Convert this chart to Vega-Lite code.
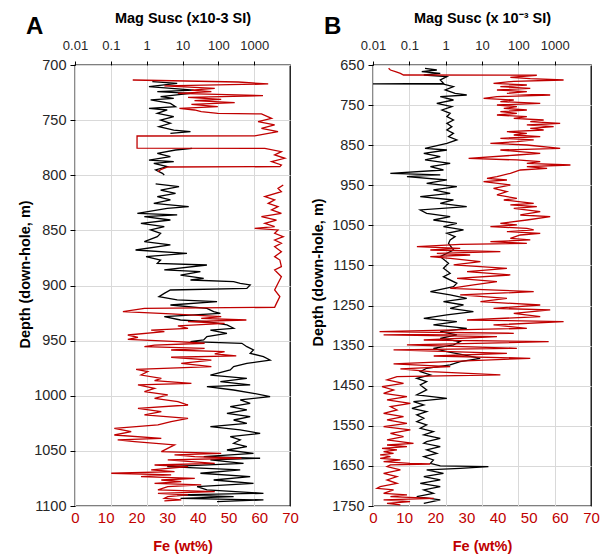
{
  "$schema": "https://vega.github.io/schema/vega-lite/v6.json",
  "background": "white",
  "padding": {"left": 16, "top": 9, "right": 5, "bottom": 2},
  "config": {
    "font": "Liberation Sans",
    "view": {"stroke": "#000000", "strokeWidth": 1.3},
    "axis": {
      "gridColor": "#d9d9d9",
      "gridWidth": 1,
      "domain": false,
      "tickColor": "#000000",
      "labelColor": "#262626",
      "labelFlush": false,
      "titleColor": "#000000",
      "titleFontWeight": "bold",
      "titleFontSize": 14.5
    },
    "title": {"fontSize": 24, "fontWeight": "bold", "anchor": "start", "frame": "bounds", "color": "#000000"},
    "concat": {"spacing": 10}
  },
  "datasets": {
    "a_ms": [
      {"depth":715.1,"ms":1.44,"seg":1},{"depth":716.6,"ms":7.1,"seg":1},{"depth":719.7,"ms":1.16,"seg":1},{"depth":722.7,"ms":20.6,"seg":1},
      {"depth":724.2,"ms":1.98,"seg":1},{"depth":725.7,"ms":16.7,"seg":1},{"depth":728.7,"ms":2.45,"seg":1},{"depth":730.2,"ms":5.7,"seg":1},
      {"depth":731.7,"ms":1.29,"seg":1},{"depth":734.8,"ms":4.6,"seg":1},{"depth":737.8,"ms":6.4,"seg":1},{"depth":739.3,"ms":1.16,"seg":1},
      {"depth":740.8,"ms":3.75,"seg":1},{"depth":743.8,"ms":1.98,"seg":1},{"depth":746.9,"ms":5.7,"seg":1},{"depth":749.9,"ms":2.45,"seg":1},
      {"depth":752.9,"ms":4.6,"seg":1},{"depth":755.9,"ms":2.2,"seg":1},{"depth":759.0,"ms":5.7,"seg":1},{"depth":760.5,"ms":16.7,"seg":1},
      {"depth":762.0,"ms":4.6,"seg":1},
      {"depth":775.6,"ms":18.5,"seg":2},{"depth":777.1,"ms":6.4,"seg":2},{"depth":780.1,"ms":1.98,"seg":2},{"depth":783.1,"ms":4.6,"seg":2},
      {"depth":786.2,"ms":1.16,"seg":2},{"depth":787.7,"ms":5.7,"seg":2},{"depth":789.2,"ms":1.58,"seg":2},{"depth":792.2,"ms":3.75,"seg":2},
      {"depth":795.2,"ms":1.78,"seg":2},{"depth":798.3,"ms":2.75,"seg":2},{"depth":799.8,"ms":3.1,"seg":2},
      {"depth":807.9,"ms":1.78,"seg":3},{"depth":810.4,"ms":8.0,"seg":3},{"depth":813.4,"ms":2.45,"seg":3},{"depth":816.4,"ms":6.4,"seg":3},
      {"depth":819.4,"ms":1.98,"seg":3},{"depth":822.4,"ms":4.6,"seg":3},{"depth":825.5,"ms":1.58,"seg":3},{"depth":828.5,"ms":14.9,"seg":3},
      {"depth":830.0,"ms":3.75,"seg":3},{"depth":834.5,"ms":0.55,"seg":3},{"depth":836.0,"ms":7.1,"seg":3},{"depth":837.5,"ms":0.86,"seg":3},
      {"depth":840.6,"ms":4.6,"seg":3},{"depth":843.6,"ms":0.69,"seg":3},{"depth":846.6,"ms":3.1,"seg":3},{"depth":849.6,"ms":1.29,"seg":3},
      {"depth":852.7,"ms":2.45,"seg":3},{"depth":855.7,"ms":1.98,"seg":3},{"depth":860.2,"ms":0.86,"seg":3},{"depth":863.2,"ms":4.6,"seg":3},
      {"depth":867.8,"ms":0.49,"seg":3},{"depth":870.8,"ms":13.3,"seg":3},{"depth":873.8,"ms":0.96,"seg":3},{"depth":876.9,"ms":2.45,"seg":3},
      {"depth":879.9,"ms":1.98,"seg":3},{"depth":881.4,"ms":48,"seg":3},{"depth":885.9,"ms":3.1,"seg":3},{"depth":887.5,"ms":31.6,"seg":3},
      {"depth":890.5,"ms":8.8,"seg":3},{"depth":893.5,"ms":39,"seg":3},{"depth":895.0,"ms":16.7,"seg":3},{"depth":896.5,"ms":267,"seg":3},
      {"depth":898.0,"ms":408,"seg":3},{"depth":899.5,"ms":774,"seg":3},{"depth":902.6,"ms":625,"seg":3},{"depth":904.1,"ms":4.6,"seg":3},
      {"depth":907.1,"ms":3.1,"seg":3},{"depth":910.1,"ms":2.2,"seg":3},{"depth":913.1,"ms":7.1,"seg":3},{"depth":914.7,"ms":92,"seg":3},
      {"depth":917.7,"ms":4.6,"seg":3},{"depth":920.7,"ms":48,"seg":3},{"depth":923.7,"ms":74,"seg":3},{"depth":925.2,"ms":114,"seg":3},
      {"depth":928.3,"ms":3.1,"seg":3},{"depth":931.3,"ms":8.8,"seg":3},{"depth":932.8,"ms":48,"seg":3},{"depth":935.8,"ms":174,"seg":3},
      {"depth":938.8,"ms":267,"seg":3},{"depth":940.4,"ms":60,"seg":3},{"depth":943.4,"ms":174,"seg":3},{"depth":946.4,"ms":48,"seg":3},
      {"depth":949.4,"ms":39,"seg":3},{"depth":950.9,"ms":16.7,"seg":3},{"depth":952.4,"ms":454,"seg":3},{"depth":955.5,"ms":625,"seg":3},
      {"depth":958.5,"ms":957,"seg":3},{"depth":961.5,"ms":774,"seg":3},{"depth":964.5,"ms":1815,"seg":3},{"depth":967.6,"ms":2780,"seg":3},
      {"depth":970.6,"ms":625,"seg":3},{"depth":973.6,"ms":267,"seg":3},{"depth":976.6,"ms":215,"seg":3},{"depth":981.2,"ms":60,"seg":3},
      {"depth":984.2,"ms":625,"seg":3},{"depth":987.2,"ms":114,"seg":3},{"depth":990.2,"ms":774,"seg":3},{"depth":991.7,"ms":48,"seg":3},
      {"depth":994.8,"ms":267,"seg":3},{"depth":997.8,"ms":957,"seg":3},{"depth":1000.8,"ms":2780,"seg":3},{"depth":1003.8,"ms":408,"seg":3},
      {"depth":1006.9,"ms":774,"seg":3},{"depth":1009.9,"ms":215,"seg":3},{"depth":1012.9,"ms":625,"seg":3},{"depth":1015.9,"ms":174,"seg":3},
      {"depth":1019.0,"ms":774,"seg":3},{"depth":1022.0,"ms":267,"seg":3},{"depth":1025.0,"ms":625,"seg":3},{"depth":1028.0,"ms":60,"seg":3},
      {"depth":1031.0,"ms":408,"seg":3},{"depth":1034.1,"ms":1470,"seg":3},{"depth":1037.1,"ms":215,"seg":3},{"depth":1040.1,"ms":408,"seg":3},
      {"depth":1043.1,"ms":267,"seg":3},{"depth":1046.2,"ms":625,"seg":3},{"depth":1049.2,"ms":174,"seg":3},{"depth":1052.2,"ms":957,"seg":3},
      {"depth":1055.2,"ms":39,"seg":3},{"depth":1056.7,"ms":1466,"seg":3},{"depth":1058.2,"ms":60,"seg":3},{"depth":1061.3,"ms":505,"seg":3},
      {"depth":1064.3,"ms":3.75,"seg":3},{"depth":1067.3,"ms":408,"seg":3},{"depth":1070.3,"ms":31.6,"seg":3},{"depth":1073.4,"ms":774,"seg":3},
      {"depth":1076.4,"ms":74,"seg":3},{"depth":1079.4,"ms":957,"seg":3},{"depth":1082.4,"ms":25.5,"seg":3},{"depth":1085.4,"ms":48,"seg":3},
      {"depth":1088.5,"ms":1815,"seg":3},{"depth":1090.0,"ms":7.1,"seg":3},{"depth":1091.5,"ms":267,"seg":3},{"depth":1093.0,"ms":8.8,"seg":3},
      {"depth":1094.5,"ms":1815,"seg":3},{"depth":1096.0,"ms":92,"seg":3}
    ],
    "a_fe": [
      {"depth":713.6,"fe":18.8,"seg":1},{"depth":715.4,"fe":53.1,"seg":1},{"depth":717.2,"fe":62.9,"seg":1},{"depth":719.0,"fe":29.1,"seg":1},
      {"depth":721.2,"fe":45.5,"seg":1},{"depth":722.7,"fe":37.9,"seg":1},{"depth":724.2,"fe":44.4,"seg":1},{"depth":725.7,"fe":33.5,"seg":1},
      {"depth":727.8,"fe":61.2,"seg":1},{"depth":729.3,"fe":36.8,"seg":1},{"depth":731.1,"fe":47.6,"seg":1},{"depth":732.4,"fe":38.9,"seg":1},
      {"depth":734.2,"fe":52.0,"seg":1},{"depth":735.7,"fe":37.9,"seg":1},{"depth":737.8,"fe":46.5,"seg":1},{"depth":739.3,"fe":34.0,"seg":1},
      {"depth":740.8,"fe":38.9,"seg":1},{"depth":742.3,"fe":41.1,"seg":1},{"depth":743.8,"fe":46.5,"seg":1},{"depth":744.4,"fe":60.7,"seg":1},
      {"depth":748.4,"fe":64.0,"seg":1},{"depth":751.4,"fe":59.6,"seg":1},{"depth":754.4,"fe":65.0,"seg":1},{"depth":757.4,"fe":60.7,"seg":1},
      {"depth":760.5,"fe":66.1,"seg":1},{"depth":764.2,"fe":58.5,"seg":1},{"depth":764.4,"fe":20.2,"seg":1},{"depth":775.4,"fe":20.2,"seg":1},
      {"depth":775.6,"fe":61.8,"seg":1},{"depth":778.6,"fe":67.2,"seg":1},{"depth":781.6,"fe":65.0,"seg":1},{"depth":784.6,"fe":68.3,"seg":1},
      {"depth":787.7,"fe":64.0,"seg":1},{"depth":790.7,"fe":67.2,"seg":1},{"depth":792.2,"fe":66.7,"seg":1},{"depth":792.5,"fe":30.2,"seg":1},
      {"depth":794.6,"fe":28.1,"seg":1},{"depth":796.7,"fe":27.0,"seg":1},
      {"depth":808.8,"fe":67.8,"seg":2},{"depth":811.9,"fe":66.1,"seg":2},{"depth":814.9,"fe":67.2,"seg":2},{"depth":819.4,"fe":61.8,"seg":2},
      {"depth":822.4,"fe":65.0,"seg":2},{"depth":825.5,"fe":62.9,"seg":2},{"depth":828.5,"fe":66.1,"seg":2},{"depth":831.5,"fe":64.0,"seg":2},
      {"depth":834.5,"fe":67.2,"seg":2},{"depth":837.5,"fe":60.7,"seg":2},{"depth":840.6,"fe":65.6,"seg":2},{"depth":843.6,"fe":61.8,"seg":2},
      {"depth":846.6,"fe":65.0,"seg":2},{"depth":848.1,"fe":58.5,"seg":2},{"depth":849.6,"fe":66.1,"seg":2},{"depth":852.7,"fe":65.0,"seg":2},
      {"depth":855.7,"fe":67.8,"seg":2},{"depth":858.7,"fe":65.0,"seg":2},{"depth":861.7,"fe":67.2,"seg":2},{"depth":864.8,"fe":65.0,"seg":2},
      {"depth":869.3,"fe":67.2,"seg":2},{"depth":873.8,"fe":65.0,"seg":2},{"depth":876.9,"fe":66.7,"seg":2},{"depth":882.9,"fe":67.2,"seg":2},
      {"depth":885.9,"fe":65.0,"seg":2},{"depth":892.0,"fe":67.2,"seg":2},{"depth":898.0,"fe":66.1,"seg":2},{"depth":904.1,"fe":65.0,"seg":2},
      {"depth":910.1,"fe":66.7,"seg":2},{"depth":916.2,"fe":65.6,"seg":2},{"depth":919.8,"fe":65.0,"seg":2},{"depth":920.7,"fe":22.6,"seg":2},
      {"depth":923.7,"fe":15.6,"seg":2},{"depth":925.8,"fe":31.3,"seg":2},{"depth":928.3,"fe":47.6,"seg":2},{"depth":929.8,"fe":41.1,"seg":2},
      {"depth":931.3,"fe":55.8,"seg":2},{"depth":932.8,"fe":36.8,"seg":2},{"depth":934.3,"fe":48.7,"seg":2},{"depth":936.7,"fe":33.5,"seg":2},
      {"depth":938.8,"fe":36.8,"seg":2},{"depth":940.4,"fe":24.8,"seg":2},{"depth":941.9,"fe":29.1,"seg":2},{"depth":944.9,"fe":17.2,"seg":2},
      {"depth":947.0,"fe":20.5,"seg":2},{"depth":948.8,"fe":17.2,"seg":2},{"depth":950.9,"fe":33.5,"seg":2},{"depth":952.4,"fe":42.2,"seg":2},
      {"depth":954.0,"fe":25.9,"seg":2},{"depth":955.5,"fe":22.6,"seg":2},{"depth":957.0,"fe":42.2,"seg":2},{"depth":958.5,"fe":31.3,"seg":2},
      {"depth":960.0,"fe":48.7,"seg":2},{"depth":962.1,"fe":45.5,"seg":2},{"depth":963.9,"fe":52.5,"seg":2},{"depth":965.1,"fe":31.3,"seg":2},
      {"depth":967.6,"fe":44.4,"seg":2},{"depth":970.6,"fe":34.6,"seg":2},{"depth":973.6,"fe":44.4,"seg":2},{"depth":976.0,"fe":19.9,"seg":2},
      {"depth":978.1,"fe":23.7,"seg":2},{"depth":981.2,"fe":21.5,"seg":2},{"depth":984.2,"fe":28.1,"seg":2},{"depth":986.3,"fe":25.9,"seg":2},
      {"depth":988.7,"fe":37.9,"seg":2},{"depth":990.2,"fe":20.5,"seg":2},{"depth":993.3,"fe":25.9,"seg":2},{"depth":996.3,"fe":22.6,"seg":2},
      {"depth":999.3,"fe":30.2,"seg":2},{"depth":1002.3,"fe":25.9,"seg":2},{"depth":1005.4,"fe":33.5,"seg":2},{"depth":1008.4,"fe":36.8,"seg":2},
      {"depth":1011.4,"fe":20.5,"seg":2},{"depth":1014.4,"fe":28.1,"seg":2},{"depth":1017.4,"fe":22.6,"seg":2},{"depth":1020.5,"fe":36.8,"seg":2},
      {"depth":1023.5,"fe":31.3,"seg":2},{"depth":1026.5,"fe":27.0,"seg":2},{"depth":1029.5,"fe":12.8,"seg":2},{"depth":1032.6,"fe":18.3,"seg":2},
      {"depth":1035.6,"fe":12.8,"seg":2},{"depth":1038.6,"fe":28.1,"seg":2},{"depth":1040.1,"fe":13.9,"seg":2},{"depth":1041.6,"fe":19.4,"seg":2},
      {"depth":1044.6,"fe":32.4,"seg":2},{"depth":1046.1,"fe":31.3,"seg":2},{"depth":1050.7,"fe":28.1,"seg":2},{"depth":1052.2,"fe":47.6,"seg":2},
      {"depth":1053.7,"fe":32.4,"seg":2},{"depth":1055.2,"fe":39.0,"seg":2},{"depth":1056.7,"fe":54.2,"seg":2},{"depth":1058.2,"fe":30.2,"seg":2},
      {"depth":1061.3,"fe":45.5,"seg":2},{"depth":1062.8,"fe":25.9,"seg":2},{"depth":1064.3,"fe":36.8,"seg":2},{"depth":1067.3,"fe":24.8,"seg":2},
      {"depth":1068.8,"fe":32.4,"seg":2},{"depth":1070.3,"fe":11.8,"seg":2},{"depth":1071.8,"fe":31.3,"seg":2},{"depth":1073.4,"fe":21.5,"seg":2},
      {"depth":1074.9,"fe":39.0,"seg":2},{"depth":1076.4,"fe":28.1,"seg":2},{"depth":1077.9,"fe":34.6,"seg":2},{"depth":1079.4,"fe":25.9,"seg":2},
      {"depth":1080.9,"fe":41.1,"seg":2},{"depth":1082.4,"fe":30.2,"seg":2},{"depth":1085.4,"fe":27.0,"seg":2},{"depth":1087.0,"fe":45.5,"seg":2},
      {"depth":1088.5,"fe":27.0,"seg":2},{"depth":1090.0,"fe":36.8,"seg":2},{"depth":1091.5,"fe":30.2,"seg":2},{"depth":1093.0,"fe":29.1,"seg":2},
      {"depth":1094.5,"fe":34.6,"seg":2},{"depth":1095.4,"fe":29.1,"seg":2}
    ],
    "b_ms": [
      {"depth":658.3,"ms":0.27},{"depth":662.5,"ms":0.57},{"depth":666.6,"ms":0.22},{"depth":670.8,"ms":0.71},{"depth":674.9,"ms":0.25},
      {"depth":679.1,"ms":1.08},{"depth":687.4,"ms":0.71},{"depth":695.7,"ms":0.87},{"depth":696.9,"ms":0.01},{"depth":697.6,"ms":0.87},
      {"depth":704.0,"ms":1.64},{"depth":712.3,"ms":0.97},{"depth":720.7,"ms":1.82},{"depth":724.8,"ms":3.8},{"depth":729.0,"ms":0.71},
      {"depth":737.3,"ms":1.64},{"depth":745.6,"ms":0.57},{"depth":753.9,"ms":1.48},{"depth":762.2,"ms":0.79},{"depth":770.5,"ms":1.33},
      {"depth":778.9,"ms":1.08},{"depth":787.2,"ms":1.64},{"depth":795.5,"ms":1.08},{"depth":803.8,"ms":1.48},{"depth":812.1,"ms":1.08},
      {"depth":820.4,"ms":1.64},{"depth":828.7,"ms":1.2},{"depth":837.0,"ms":2.03},{"depth":845.4,"ms":1.08},{"depth":857.8,"ms":0.27},
      {"depth":862.0,"ms":1.08},{"depth":870.3,"ms":0.25},{"depth":878.6,"ms":0.71},{"depth":886.9,"ms":0.27},{"depth":895.2,"ms":1.33},
      {"depth":903.5,"ms":0.38},{"depth":911.9,"ms":0.87},{"depth":920.2,"ms":0.03},{"depth":924.3,"ms":0.71},{"depth":928.5,"ms":0.086},
      {"depth":936.8,"ms":1.08},{"depth":945.1,"ms":0.3},{"depth":953.4,"ms":2.03},{"depth":961.7,"ms":0.46},{"depth":970.0,"ms":1.33},
      {"depth":978.4,"ms":0.2},{"depth":986.7,"ms":1.64},{"depth":995.0,"ms":0.71},{"depth":1003.3,"ms":3.8},{"depth":1011.6,"ms":0.2},
      {"depth":1019.9,"ms":0.3},{"depth":1028.2,"ms":1.33},{"depth":1036.6,"ms":0.46},{"depth":1044.9,"ms":2.03},{"depth":1053.2,"ms":0.87},
      {"depth":1061.5,"ms":3.1},{"depth":1069.8,"ms":1.08},{"depth":1078.1,"ms":1.82},{"depth":1086.4,"ms":1.33},{"depth":1094.8,"ms":1.2},
      {"depth":1111.4,"ms":1.64},{"depth":1128.0,"ms":0.71},{"depth":1144.7,"ms":1.2},{"depth":1157.1,"ms":0.87},{"depth":1169.6,"ms":1.33},
      {"depth":1177.9,"ms":0.87},{"depth":1194.5,"ms":2.03},{"depth":1202.8,"ms":1.64},{"depth":1215.3,"ms":0.38},{"depth":1223.6,"ms":1.33},
      {"depth":1231.9,"ms":3.8},{"depth":1240.3,"ms":0.87},{"depth":1248.6,"ms":3.1},{"depth":1256.9,"ms":1.33},{"depth":1265.2,"ms":5.8},
      {"depth":1273.5,"ms":1.08},{"depth":1281.8,"ms":0.25},{"depth":1290.1,"ms":2.03},{"depth":1298.4,"ms":0.46},{"depth":1306.8,"ms":3.8},
      {"depth":1315.1,"ms":0.71},{"depth":1323.4,"ms":2.03},{"depth":1331.7,"ms":0.71},{"depth":1340.0,"ms":2.5},{"depth":1348.3,"ms":1.64},
      {"depth":1356.6,"ms":0.46},{"depth":1365.0,"ms":1.08},{"depth":1373.3,"ms":3.1},{"depth":1381.6,"ms":8.9},{"depth":1389.9,"ms":2.5},
      {"depth":1398.2,"ms":1.33},{"depth":1406.5,"ms":0.3},{"depth":1414.8,"ms":0.2},{"depth":1423.1,"ms":0.38},{"depth":1431.5,"ms":0.16},
      {"depth":1439.8,"ms":0.3},{"depth":1448.1,"ms":0.2},{"depth":1460.5,"ms":0.3},{"depth":1473.0,"ms":0.16},{"depth":1481.3,"ms":1.08},
      {"depth":1489.6,"ms":0.13},{"depth":1497.9,"ms":0.25},{"depth":1506.3,"ms":0.118},{"depth":1514.6,"ms":0.3},{"depth":1522.9,"ms":0.16},
      {"depth":1531.2,"ms":0.25},{"depth":1539.5,"ms":0.16},{"depth":1547.8,"ms":0.3},{"depth":1556.1,"ms":0.2},{"depth":1564.5,"ms":0.46},
      {"depth":1572.8,"ms":0.25},{"depth":1581.1,"ms":0.71},{"depth":1589.4,"ms":0.3},{"depth":1593.6,"ms":0.25},{"depth":1601.9,"ms":0.71},
      {"depth":1610.2,"ms":0.3},{"depth":1618.6,"ms":0.57},{"depth":1626.9,"ms":0.25},{"depth":1635.2,"ms":0.46},{"depth":1643.5,"ms":0.38},
      {"depth":1650.1,"ms":0.71},{"depth":1651.8,"ms":15},{"depth":1656.0,"ms":2.5},{"depth":1660.1,"ms":0.3},{"depth":1668.4,"ms":0.87},
      {"depth":1676.7,"ms":0.25},{"depth":1685.1,"ms":0.71},{"depth":1693.4,"ms":0.2},{"depth":1701.7,"ms":0.71},{"depth":1710.0,"ms":0.25},
      {"depth":1718.3,"ms":0.46},{"depth":1726.6,"ms":0.16},{"depth":1734.9,"ms":0.71},{"depth":1743.2,"ms":0.25}
    ],
    "b_fe": [
      {"depth":658.3,"fe":5.0},{"depth":662.5,"fe":5.6},{"depth":666.6,"fe":7.2},{"depth":670.8,"fe":8.8},{"depth":674.9,"fe":9.8},
      {"depth":675.6,"fe":52.6},{"depth":680.8,"fe":44.1},{"depth":684.1,"fe":50.5},{"depth":687.4,"fe":61.2},{"depth":690.7,"fe":45.2},
      {"depth":695.7,"fe":38.7},{"depth":699.9,"fe":49.4},{"depth":704.0,"fe":40.9},{"depth":708.2,"fe":50.5},{"depth":712.3,"fe":39.8},
      {"depth":716.5,"fe":49.4},{"depth":720.7,"fe":43.0},{"depth":724.8,"fe":56.9},{"depth":729.0,"fe":39.8},{"depth":733.1,"fe":35.5},
      {"depth":737.3,"fe":45.2},{"depth":741.4,"fe":40.9},{"depth":745.6,"fe":53.7},{"depth":749.8,"fe":39.8},{"depth":753.9,"fe":46.2},
      {"depth":758.1,"fe":42.0},{"depth":762.2,"fe":49.4},{"depth":766.4,"fe":40.9},{"depth":770.5,"fe":46.2},{"depth":774.7,"fe":39.8},
      {"depth":778.9,"fe":49.4},{"depth":783.0,"fe":45.2},{"depth":787.2,"fe":54.8},{"depth":791.3,"fe":50.5},{"depth":795.5,"fe":60.1},
      {"depth":799.6,"fe":49.4},{"depth":803.8,"fe":58.0},{"depth":807.9,"fe":50.5},{"depth":812.1,"fe":54.8},{"depth":816.3,"fe":43.0},
      {"depth":820.4,"fe":49.4},{"depth":824.6,"fe":45.2},{"depth":828.7,"fe":53.7},{"depth":832.9,"fe":40.9},{"depth":837.0,"fe":51.6},
      {"depth":841.2,"fe":46.2},{"depth":845.4,"fe":37.7},{"depth":849.5,"fe":49.4},{"depth":857.8,"fe":60.1},{"depth":862.0,"fe":40.9},
      {"depth":870.3,"fe":53.7},{"depth":874.5,"fe":46.2},{"depth":882.8,"fe":30.7},{"depth":886.9,"fe":46.2},{"depth":891.1,"fe":53.7},
      {"depth":895.2,"fe":49.4},{"depth":899.4,"fe":63.4},{"depth":903.5,"fe":49.4},{"depth":907.7,"fe":55.9},{"depth":911.9,"fe":47.3},
      {"depth":920.2,"fe":44.1},{"depth":928.5,"fe":39.8},{"depth":932.6,"fe":36.6},{"depth":936.8,"fe":43.0},{"depth":940.9,"fe":35.5},
      {"depth":949.3,"fe":44.1},{"depth":957.6,"fe":38.7},{"depth":965.9,"fe":43.0},{"depth":974.2,"fe":39.8},{"depth":982.5,"fe":46.2},
      {"depth":986.7,"fe":42.0},{"depth":995.0,"fe":51.6},{"depth":999.1,"fe":44.1},{"depth":1003.3,"fe":52.6},{"depth":1007.5,"fe":45.2},
      {"depth":1015.8,"fe":53.7},{"depth":1024.1,"fe":47.3},{"depth":1028.2,"fe":56.9},{"depth":1036.6,"fe":49.4},{"depth":1044.9,"fe":40.9},
      {"depth":1049.0,"fe":46.2},{"depth":1053.2,"fe":37.7},{"depth":1057.3,"fe":49.4},{"depth":1061.5,"fe":51.6},{"depth":1065.6,"fe":43.0},
      {"depth":1069.8,"fe":53.7},{"depth":1074.0,"fe":47.3},{"depth":1082.3,"fe":44.1},{"depth":1086.4,"fe":50.5},{"depth":1090.6,"fe":37.7},
      {"depth":1094.8,"fe":49.4},{"depth":1097.2,"fe":28.0},{"depth":1103.1,"fe":14.1},{"depth":1107.2,"fe":28.0},{"depth":1111.4,"fe":18.4},
      {"depth":1115.5,"fe":40.9},{"depth":1119.7,"fe":20.5},{"depth":1123.9,"fe":31.2},{"depth":1128.0,"fe":18.4},{"depth":1132.2,"fe":24.8},
      {"depth":1140.5,"fe":34.5},{"depth":1148.8,"fe":25.9},{"depth":1157.1,"fe":43.0},{"depth":1165.4,"fe":30.2},{"depth":1173.7,"fe":44.1},
      {"depth":1182.1,"fe":27.0},{"depth":1190.4,"fe":39.8},{"depth":1198.7,"fe":32.3},{"depth":1207.0,"fe":24.8},{"depth":1215.3,"fe":51.6},
      {"depth":1223.6,"fe":28.0},{"depth":1231.9,"fe":43.0},{"depth":1240.3,"fe":34.5},{"depth":1248.6,"fe":53.7},{"depth":1256.9,"fe":38.7},
      {"depth":1261.0,"fe":56.9},{"depth":1269.3,"fe":45.2},{"depth":1277.7,"fe":53.7},{"depth":1286.0,"fe":30.2},{"depth":1290.1,"fe":61.2},
      {"depth":1298.4,"fe":38.7},{"depth":1306.8,"fe":49.4},{"depth":1315.1,"fe":2.1},{"depth":1319.2,"fe":45.2},{"depth":1323.4,"fe":3.4},
      {"depth":1327.5,"fe":39.8},{"depth":1335.9,"fe":16.3},{"depth":1340.0,"fe":56.4},{"depth":1348.3,"fe":10.9},{"depth":1356.6,"fe":46.2},
      {"depth":1360.8,"fe":6.6},{"depth":1369.1,"fe":43.0},{"depth":1375.8,"fe":19.5},{"depth":1381.6,"fe":50.5},{"depth":1389.9,"fe":23.8},
      {"depth":1395.7,"fe":6.6},{"depth":1402.4,"fe":24.8},{"depth":1408.2,"fe":8.8},{"depth":1414.8,"fe":18.4},{"depth":1423.1,"fe":40.9},
      {"depth":1427.3,"fe":7.7},{"depth":1435.6,"fe":4.5},{"depth":1443.9,"fe":9.8},{"depth":1452.2,"fe":2.9},{"depth":1460.5,"fe":6.6},
      {"depth":1468.9,"fe":3.4},{"depth":1477.2,"fe":10.9},{"depth":1485.5,"fe":4.5},{"depth":1493.8,"fe":12.0},{"depth":1502.1,"fe":5.6},
      {"depth":1510.4,"fe":7.7},{"depth":1518.7,"fe":3.4},{"depth":1527.1,"fe":9.8},{"depth":1535.4,"fe":4.5},{"depth":1543.7,"fe":10.9},
      {"depth":1552.0,"fe":3.4},{"depth":1560.3,"fe":12.0},{"depth":1568.6,"fe":5.6},{"depth":1576.9,"fe":9.8},{"depth":1585.2,"fe":4.5},
      {"depth":1593.6,"fe":13.0},{"depth":1597.8,"fe":4.5},{"depth":1601.9,"fe":10.9},{"depth":1606.1,"fe":2.9},{"depth":1610.2,"fe":7.7},
      {"depth":1614.4,"fe":3.4},{"depth":1618.6,"fe":6.6},{"depth":1622.7,"fe":2.3},{"depth":1626.9,"fe":5.6},{"depth":1631.0,"fe":2.3},
      {"depth":1635.2,"fe":8.8},{"depth":1639.3,"fe":3.4},{"depth":1643.5,"fe":11.9},{"depth":1645.2,"fe":18.4},{"depth":1647.6,"fe":5.6},
      {"depth":1651.8,"fe":4.5},{"depth":1660.1,"fe":8.8},{"depth":1668.4,"fe":3.4},{"depth":1676.7,"fe":7.7},{"depth":1685.1,"fe":4.5},
      {"depth":1693.4,"fe":7.7},{"depth":1701.7,"fe":2.3},{"depth":1705.8,"fe":1.3},{"depth":1710.0,"fe":6.6},{"depth":1718.3,"fe":3.4},
      {"depth":1722.5,"fe":10.9},{"depth":1726.6,"fe":5.6},{"depth":1730.8,"fe":19.5},{"depth":1734.9,"fe":3.4},{"depth":1739.1,"fe":11.9},
      {"depth":1743.2,"fe":4.5},{"depth":1747.4,"fe":8.8}
    ]
  },
  "hconcat": [
    {
      "width": 215,
      "height": 441,
      "title": {"text": "A", "dx": 9, "dy": 33},
      "encoding": {
        "y": {
          "field": "depth",
          "type": "quantitative",
          "scale": {"domain": [700, 1100], "reverse": true, "nice": false, "zero": false},
          "axis": {
            "values": [700, 750, 800, 850, 900, 950, 1000, 1050, 1100],
            "format": "d",
            "title": "Depth (down-hole, m)",
            "titleX": -43,
            "titleY": 209,
            "labelFontSize": 14.5,
            "tickSize": 5,
            "labelPadding": 4
          }
        }
      },
      "layer": [
        {
          "data": {"name": "a_ms"},
          "mark": {"type": "line", "color": "#000000", "strokeWidth": 1.3},
          "encoding": {
            "x": {
              "field": "ms",
              "type": "quantitative",
              "scale": {"type": "log", "domain": [0.01, 10000], "nice": false},
              "axis": {
                "orient": "top",
                "values": [0.01, 0.1, 1, 10, 100, 1000],
                "format": "~g",
                "title": "Mag Susc (x10-3 SI)",
                "labelFontSize": 13,
                "tickSize": 4,
                "labelPadding": 9,
                "titlePadding": 14
              }
            },
            "order": {"field": "depth", "type": "quantitative"},
            "detail": {"field": "seg", "type": "nominal"}
          }
        },
        {
          "data": {"name": "a_fe"},
          "mark": {"type": "line", "color": "#c00000", "strokeWidth": 1.3},
          "encoding": {
            "x": {
              "field": "fe",
              "type": "quantitative",
              "scale": {"domain": [0, 70], "nice": false},
              "axis": {
                "orient": "bottom",
                "values": [0, 10, 20, 30, 40, 50, 60, 70],
                "grid": false,
                "ticks": false,
                "labelPadding": 4,
                "labelFontSize": 15,
                "labelColor": "#c00000",
                "title": "Fe (wt%)",
                "titleColor": "#c00000",
                "titlePadding": 14
              }
            },
            "order": {"field": "depth", "type": "quantitative"},
            "detail": {"field": "seg", "type": "nominal"}
          }
        }
      ],
      "resolve": {"scale": {"x": "independent"}}
    },
    {
      "width": 218,
      "height": 441,
      "title": {"text": "B", "dx": 14, "dy": 33},
      "encoding": {
        "y": {
          "field": "depth",
          "type": "quantitative",
          "scale": {"domain": [650, 1750], "reverse": true, "nice": false, "zero": false},
          "axis": {
            "values": [650, 750, 850, 950, 1050, 1150, 1250, 1350, 1450, 1550, 1650, 1750],
            "format": "d",
            "title": "Depth (down-hole, m)",
            "titleX": -48,
            "titleY": 207,
            "labelFontSize": 14.5,
            "tickSize": 5,
            "labelPadding": 4
          }
        }
      },
      "layer": [
        {
          "data": {"name": "b_ms"},
          "mark": {"type": "line", "color": "#000000", "strokeWidth": 1.3},
          "encoding": {
            "x": {
              "field": "ms",
              "type": "quantitative",
              "scale": {"type": "log", "domain": [0.01, 10000], "nice": false},
              "axis": {
                "orient": "top",
                "values": [0.01, 0.1, 1, 10, 100, 1000],
                "format": "~g",
                "title": "Mag Susc (x 10⁻³ SI)",
                "labelFontSize": 13,
                "tickSize": 4,
                "labelPadding": 9,
                "titlePadding": 14
              }
            },
            "order": {"field": "depth", "type": "quantitative"}
          }
        },
        {
          "data": {"name": "b_fe"},
          "mark": {"type": "line", "color": "#c00000", "strokeWidth": 1.3},
          "encoding": {
            "x": {
              "field": "fe",
              "type": "quantitative",
              "scale": {"domain": [0, 70], "nice": false},
              "axis": {
                "orient": "bottom",
                "values": [0, 10, 20, 30, 40, 50, 60, 70],
                "grid": false,
                "ticks": false,
                "labelPadding": 4,
                "labelFontSize": 15,
                "labelColor": "#c00000",
                "title": "Fe (wt%)",
                "titleColor": "#c00000",
                "titlePadding": 14
              }
            },
            "order": {"field": "depth", "type": "quantitative"}
          }
        }
      ],
      "resolve": {"scale": {"x": "independent"}}
    }
  ]
}
